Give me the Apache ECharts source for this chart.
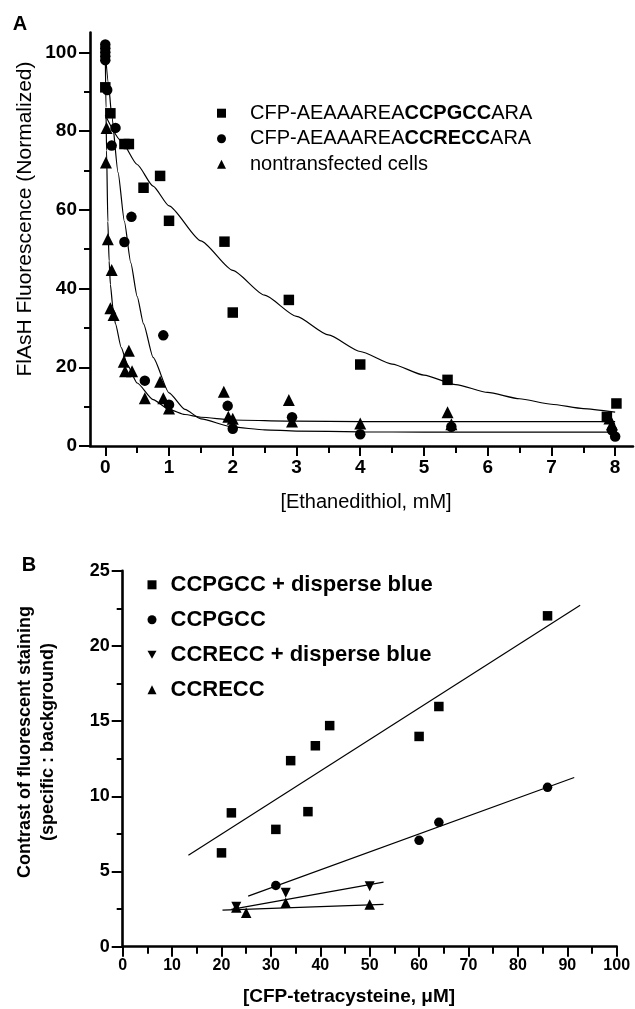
<!DOCTYPE html>
<html>
<head>
<meta charset="utf-8">
<script src="https://cdn.jsdelivr.net/npm/echarts@6/dist/echarts.min.js"></script>
<style>
html,body{margin:0;padding:0;background:#fff;}
#chart{width:635px;height:1009px;}
</style>
</head>
<body>
<div id="chart"></div>
<script>
// ---------- Panel A data ----------
const nameSqA = 'CFP-AEAAAREACCPGCCARA';
const nameCiA = 'CFP-AEAAAREACCRECCARA';
const nameTrA = 'nontransfected cells';

const squaresA = [[0,91.1],[0.08,84.5],[0.3,76.7],[0.37,76.7],[0.6,65.6],[0.86,68.6],[1.0,57.2],[1.87,51.9],[2.0,33.9],[2.88,37.1],[4.0,20.7],[5.37,16.8],[7.87,7.4],[8.02,10.8]];
const circlesA = [[0,102],[0,101],[0,100],[0,99],[0,98],[0.03,90.4],[0.1,76.3],[0.16,80.8],[0.3,51.8],[0.41,58.2],[0.62,16.6],[0.91,28.1],[1.0,10.5],[1.92,10.2],[2.0,4.4],[2.93,7.3],[4.0,3.0],[5.43,4.9],[7.95,4.0],[8.0,2.4]];
const trianglesA = [[0.02,80.8],[0.01,72.0],[0.04,52.5],[0.1,44.7],[0.08,35.0],[0.13,33.3],[0.29,21.4],[0.37,24.2],[0.31,19.0],[0.42,19.0],[0.62,12.1],[0.86,16.3],[0.91,12.1],[1.0,9.5],[1.86,13.8],[1.93,7.4],[2.0,6.9],[2.88,11.7],[2.93,6.2],[4.0,5.7],[5.37,8.6],[5.43,5.5],[7.91,7.0],[7.95,5.5]];

// fitted curves, points
const fitSqA = [[0,84],[0.25,77.5],[0.5,71.5],[0.75,66],[1,61],[1.5,52.1],[2,44.6],[2.5,38.3],[3,32.9],[3.5,28.2],[4,24],[4.5,20.8],[5,18],[5.5,15.6],[6,13.6],[6.5,12],[7,10.6],[7.5,9.5],[8,8.6]];
const fitCiA = [[0,100],[0.05,92],[0.1,84],[0.2,69.5],[0.3,57],[0.4,46.5],[0.5,38],[0.6,31],[0.75,22.5],[1,13.5],[1.25,9.3],[1.5,6.9],[2,4.8],[2.5,4.1],[3,3.8],[4,3.6],[5,3.5],[6,3.5],[7,3.5],[8,3.5]];
const fitTrA = [[0,100],[0.01,86],[0.02,75],[0.04,57],[0.06,47],[0.08,41],[0.12,35],[0.16,31],[0.25,25],[0.35,20.5],[0.5,16],[0.75,11.8],[1,9.3],[1.25,8],[1.5,7.3],[2,6.6],[3,6.3],[4,6.2],[6,6.2],[8,6.2]];

const xTicksA = [0,1,2,3,4,5,6,7,8];
const xMinorA = [0.5,1.5,2.5,3.5,4.5,5.5,6.5,7.5];
const yTicksA = [0,20,40,60,80,100];
const yMinorA = [10,30,50,70,90];

// ---------- Panel B data ----------
const nameSqB = 'CCPGCC + disperse blue';
const nameCiB = 'CCPGCC';
const nameDnB = 'CCRECC + disperse blue';
const nameUpB = 'CCRECC';

const squaresB = [[20,6.24],[22,8.9],[31,7.8],[34,12.37],[37.5,8.98],[39,13.36],[41.9,14.7],[60,13.98],[64,15.97],[86,22.0]];
const circlesB = [[31,4.07],[60,7.07],[64,8.27],[86,10.6]];
const downB = [[23,2.65],[33,3.58],[50,4.02]];
const upB = [[23,2.6],[25,2.25],[33,2.92],[50,2.81]];

const fitSqB = [[13.3,6.08],[92.6,22.7]];
const fitCiB = [[25.4,3.36],[91.4,11.25]];
const fitDnB = [[22,2.48],[52.8,4.29]];
const fitUpB = [[20.2,2.43],[52.8,2.81]];

const xTicksB = [0,10,20,30,40,50,60,70,80,90,100];
const xMinorB = [5,15,25,35,45,55,65,75,85,95];
const yTicksB = [0,5,10,15,20,25];
const yMinorB = [2.5,7.5,12.5,17.5,22.5];

// ---------- chart ----------
const FONT = '"Liberation Sans", Arial, sans-serif';
const downPath = 'path://M0,0L10,0L5,9Z';
const GA = {left: 90, top: 32.6, width: 543, height: 413.4};
const GB = {left: 122.7, top: 570.7, width: 494, height: 376};

function labelAxis(gridIndex, min, max, ticks, labelSize, position, margin) {
  return {
    type: 'value', gridIndex, min, max, position,
    splitLine: {show: false},
    axisLine: {show: true, onZero: false, lineStyle: {color: '#000', width: 2.6}},
    axisTick: {show: false},
    axisLabel: {show: true, customValues: ticks, color: '#000', fontFamily: FONT, fontWeight: 'bold', fontSize: labelSize, margin: margin}
  };
}
// tick-only axis placed on the opposite side and shifted back onto the axis line, ticks pointing outward
function tickAxis(gridIndex, min, max, ticks, length, position, offset) {
  return {
    type: 'value', gridIndex, min, max, position, offset,
    splitLine: {show: false},
    axisLine: {show: false, onZero: false},
    axisTick: {show: true, inside: true, customValues: ticks, length: length, lineStyle: {color: '#000', width: 2}},
    axisLabel: {show: false}
  };
}

const blk = {color: '#000', opacity: 1};
function scatter(name, data, xi, yi, symbol, size) {
  return {type: 'scatter', name, data, xAxisIndex: xi, yAxisIndex: yi, symbol, symbolSize: size, itemStyle: blk, z: 5, silent: true};
}
function fit(name, data, xi, yi, smooth) {
  return {type: 'line', name, data, xAxisIndex: xi, yAxisIndex: yi, symbol: 'none', smooth: smooth, smoothMonotone: 'x',
    lineStyle: {color: '#000', width: 1.2, opacity: 1}, z: 3, silent: true};
}

const option = {
  backgroundColor: '#fff',
  animation: false,
  textStyle: {fontFamily: FONT},
  grid: [
    Object.assign({outerBoundsMode: 'none'}, GA),
    Object.assign({outerBoundsMode: 'none'}, GB)
  ],
  xAxis: [
    labelAxis(0, -0.24, 8.28, xTicksA, 19, 'bottom', 12),
    tickAxis(0, -0.24, 8.28, xTicksA, 10, 'top', -GA.height),
    tickAxis(0, -0.24, 8.28, xMinorA, 7, 'top', -GA.height),
    labelAxis(1, 0, 100, xTicksB, 16, 'bottom', 11),
    tickAxis(1, 0, 100, xTicksB, 10, 'top', -GB.height),
    tickAxis(1, 0, 100, xMinorB, 7, 'top', -GB.height)
  ],
  yAxis: [
    labelAxis(0, 0, 105, yTicksA, 19, 'left', 13),
    tickAxis(0, 0, 105, yTicksA, 11, 'right', -GA.width),
    tickAxis(0, 0, 105, yMinorA, 6, 'right', -GA.width),
    labelAxis(1, 0, 25, yTicksB, 18, 'left', 13),
    tickAxis(1, 0, 25, yTicksB, 11, 'right', -GB.width),
    tickAxis(1, 0, 25, yMinorB, 6, 'right', -GB.width)
  ],
  legend: [
    {
      data: [nameSqA, nameCiA, nameTrA],
      orient: 'vertical', left: 217, top: 103.2, padding: 0,
      itemWidth: 9, itemHeight: 9, itemGap: 5.5,
      itemStyle: {color: '#000', opacity: 1},
      selectedMode: false,
      formatter: function (name) {
        if (name.indexOf('CFP-AEAAAREA') === 0) {
          return '{n|CFP-AEAAAREA}{b|' + name.slice(12, 18) + '}{n|ARA}';
        }
        return '{n|' + name + '}';
      },
      textStyle: {
        color: '#000', fontFamily: FONT, fontSize: 20, padding: [0, 0, 0, 19],
        rich: {
          n: {fontSize: 20, lineHeight: 20, fontFamily: FONT, color: '#000'},
          b: {fontSize: 20, lineHeight: 20, fontFamily: FONT, fontWeight: 'bold', color: '#000'}
        }
      }
    },
    {
      data: [nameSqB, nameCiB, nameDnB, nameUpB],
      orient: 'vertical', left: 147.5, top: 573.8, padding: 0,
      itemWidth: 9, itemHeight: 9, itemGap: 13,
      itemStyle: {color: '#000', opacity: 1},
      selectedMode: false,
      textStyle: {color: '#000', fontFamily: FONT, fontSize: 22, lineHeight: 22, fontWeight: 'bold', padding: [0, 0, 0, 9]}
    }
  ],
  graphic: [
    {type: 'text', x: 20, y: 24, style: {text: 'A', font: 'bold 20px ' + FONT, fill: '#000', align: 'center', verticalAlign: 'middle'}},
    {type: 'text', x: 29, y: 565, style: {text: 'B', font: 'bold 20px ' + FONT, fill: '#000', align: 'center', verticalAlign: 'middle'}},
    {type: 'text', x: 25, y: 219, rotation: Math.PI / 2, style: {text: 'FlAsH Fluorescence (Normalized)', font: '21px ' + FONT, fill: '#000', align: 'center', verticalAlign: 'middle'}},
    {type: 'text', x: 366, y: 502, style: {text: '[Ethanedithiol, mM]', font: '20px ' + FONT, fill: '#000', align: 'center', verticalAlign: 'middle'}},
    {type: 'text', x: 25, y: 742, rotation: Math.PI / 2, style: {text: 'Contrast of fluorescent staining', font: 'bold 18px ' + FONT, fill: '#000', align: 'center', verticalAlign: 'middle'}},
    {type: 'text', x: 48, y: 742, rotation: Math.PI / 2, style: {text: '(specific : background)', font: 'bold 18px ' + FONT, fill: '#000', align: 'center', verticalAlign: 'middle'}},
    {type: 'text', x: 349, y: 997, style: {text: '[CFP-tetracysteine, \u03bcM]', font: 'bold 19px ' + FONT, fill: '#000', align: 'center', verticalAlign: 'middle'}}
  ],
  series: [
    fit('fitSqA', fitSqA, 0, 0, 0.2),
    fit('fitCiA', fitCiA, 0, 0, 0.2),
    fit('fitTrA', fitTrA, 0, 0, 0.2),
    scatter(nameSqA, squaresA, 0, 0, 'rect', 10.5),
    scatter(nameCiA, circlesA, 0, 0, 'circle', 10.5),
    scatter(nameTrA, trianglesA, 0, 0, 'triangle', 12),
    fit('fitSqB', fitSqB, 3, 3, false),
    fit('fitCiB', fitCiB, 3, 3, false),
    fit('fitDnB', fitDnB, 3, 3, false),
    fit('fitUpB', fitUpB, 3, 3, false),
    scatter(nameSqB, squaresB, 3, 3, 'rect', 9.5),
    scatter(nameCiB, circlesB, 3, 3, 'circle', 9.5),
    scatter(nameDnB, downB, 3, 3, downPath, 10),
    scatter(nameUpB, upB, 3, 3, 'triangle', 10.5)
  ]
};

const chart = echarts.init(document.getElementById('chart'), null, {renderer: 'canvas'});
chart.setOption(option);
</script>
</body>
</html>
